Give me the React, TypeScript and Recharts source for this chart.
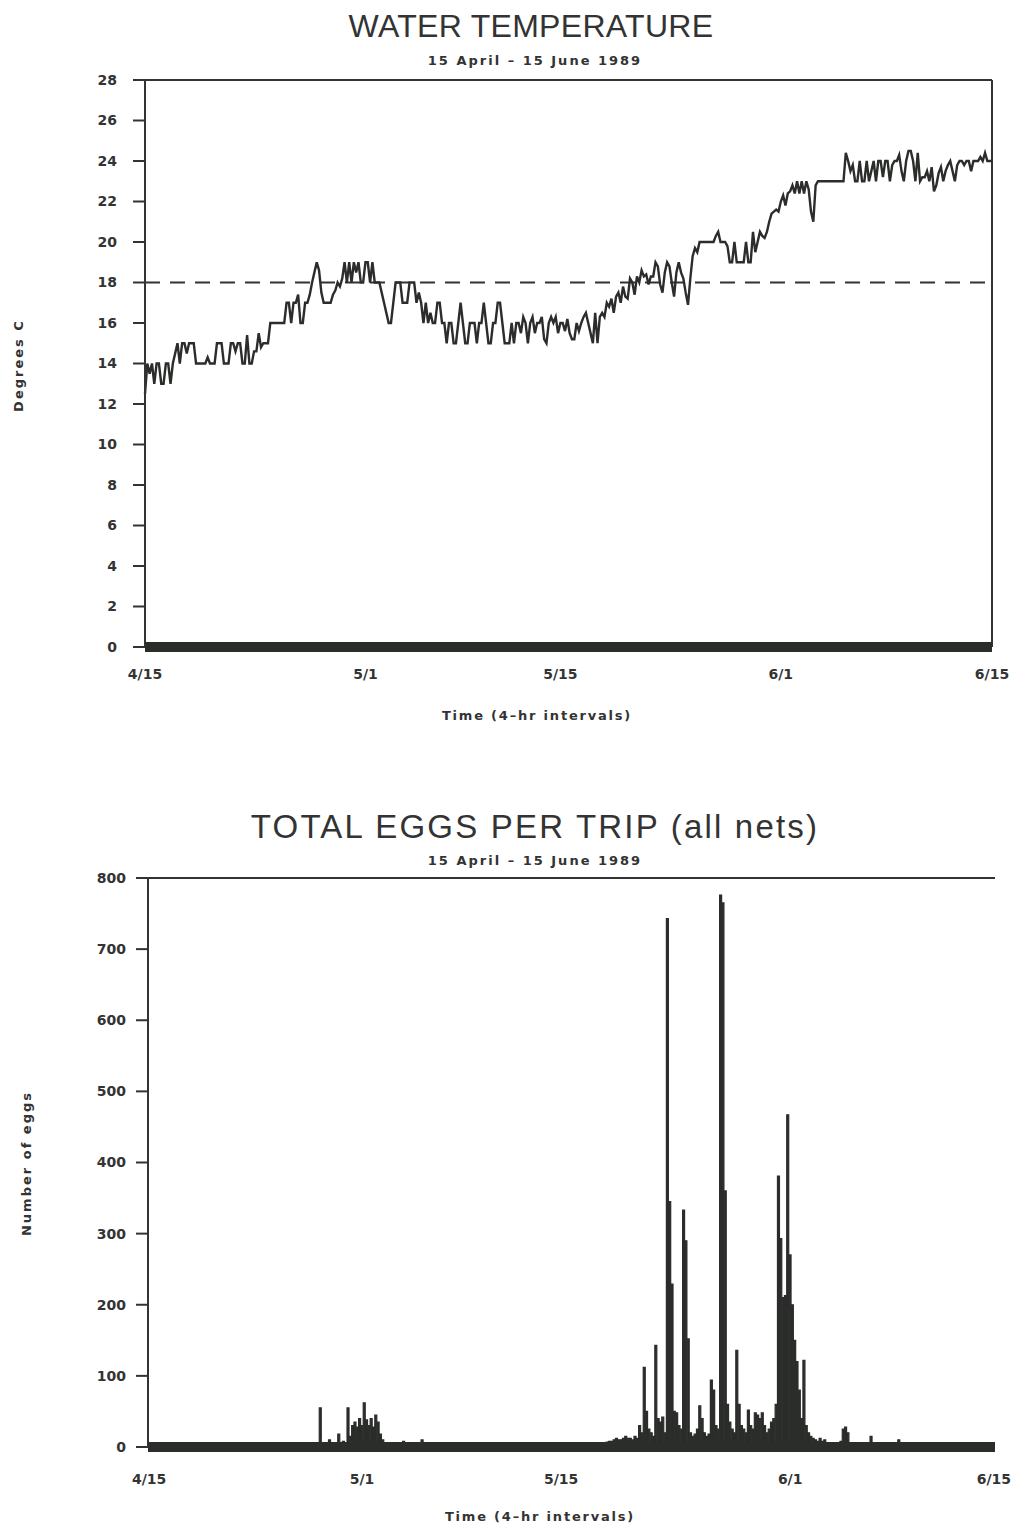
import React from 'react';
import { LineChart, Line, BarChart, Bar, XAxis, YAxis, ReferenceLine } from 'recharts';

// time axis: 4-hr intervals, 15 April - 15 June 1989
const TIME_LABELS = ['4/15', '5/1', '5/15', '6/1', '6/15'];
const TEMP_TICK_POS = [0, 95, 179, 274, 365];
const EGG_TICK_POS = [0, 92, 178, 277, 365];

const TEMP_Y_TICKS = [0, 2, 4, 6, 8, 10, 12, 14, 16, 18, 20, 22, 24, 26, 28];
const EGG_Y_TICKS = [0, 100, 200, 300, 400, 500, 600, 700, 800];
const TEMP_THRESHOLD = 18;

// water temperature (deg C), one value per 4-hr interval
const waterTemp = [
  12.5, 14, 13.5, 14, 13, 14, 14, 13, 13, 14,
  14, 13, 14, 14.5, 15, 14, 15, 15, 14.5, 15,
  15, 15, 14, 14, 14, 14, 14, 14.3, 14, 14,
  14, 15, 15, 15, 14, 14, 14, 15, 15, 14.6,
  15, 15, 14, 14, 15.4, 14, 14, 14.6, 14.6, 15.5,
  14.8, 15, 15, 15, 16, 16, 16, 16, 16, 16,
  16, 17, 17, 16, 17, 17, 17.4, 16, 16, 17,
  17, 17.4, 18, 18.5, 19, 18.6, 17.5, 17, 17, 17,
  17, 17.4, 17.6, 18, 17.8, 18.2, 19, 18, 19, 18,
  19, 18.5, 19, 18, 18, 19, 19, 18, 19, 18,
  18, 18, 17.5, 17, 16.5, 16, 16, 17, 18, 18,
  18, 17, 17, 17, 18, 18, 18, 17, 17.5, 17,
  16, 17, 16, 16.5, 16, 16, 17, 17, 16, 16,
  15, 16, 16, 15, 15, 16, 17, 16, 15, 15,
  16, 16, 16, 15, 16, 16, 17, 16, 15, 15,
  16, 16, 17, 17, 16, 15, 15, 15, 16, 15,
  16, 16, 15.5, 16.3, 16, 15, 16, 16.3, 15.5, 16,
  16, 16.3, 15.2, 15, 16, 16.3, 16, 16.3, 15.5, 16,
  16, 15.6, 16.2, 15.5, 15.2, 15.2, 16, 15.6, 16, 16.3,
  16.5, 16, 15.5, 15, 16.5, 15, 16.3, 16.5, 16.3, 17,
  16.8, 17.2, 16.5, 17.3, 17.5, 17, 17.8, 17.3, 17.2, 18.2,
  18, 17.4, 18.3, 18, 18.6, 18.3, 18.4, 17.9, 18.3, 18.3,
  19, 18.8, 17.9, 17.5, 18.5, 19, 18.8, 18, 17.3, 18.5,
  19, 18.5, 18.2, 17.5, 16.9, 18.2, 19.3, 19.7, 19.5, 20,
  20, 20, 20, 20, 20, 20, 20.3, 20.5, 20, 20,
  20, 19.8, 19, 19, 20, 19, 19, 19, 19, 20,
  19, 19, 20.5, 19.5, 20, 20.5, 20.3, 20.2, 20.5, 21,
  21.4, 21.5, 21.6, 21.5, 22, 22.3, 21.8, 22.4, 22.5, 22.8,
  22.4, 23, 22.4, 23, 22.4, 23, 22.6, 21.5, 21, 22.8,
  23, 23, 23, 23, 23, 23, 23, 23, 23, 23,
  23, 23, 24.4, 24, 23.5, 23.8, 23, 23, 24, 23,
  23, 24, 23, 23.5, 24, 23, 24, 24, 23.2, 24,
  24, 23, 23.8, 24, 24, 24.3, 23.5, 23, 24, 24.5,
  24.5, 24, 23, 24.4, 23, 23.2, 23.2, 23.5, 23, 23.7,
  22.5, 22.8, 23.4, 23.7, 23, 23.5, 23.8, 24, 23.5, 23,
  23.8, 24, 24, 23.8, 24, 24, 23.5, 24, 24, 24,
  24.2, 24, 24.4, 24, 24, 24,
];

// total eggs per trip (all nets), one value per 4-hr interval
const eggsPerTrip = [
  0, 0, 0, 0, 0, 0, 0, 0, 0, 0,
  0, 0, 0, 0, 0, 0, 0, 0, 0, 0,
  0, 0, 0, 0, 0, 0, 0, 0, 0, 0,
  0, 0, 0, 0, 0, 0, 0, 0, 0, 0,
  0, 0, 0, 0, 0, 0, 0, 0, 0, 0,
  0, 0, 0, 0, 0, 0, 0, 0, 0, 0,
  0, 0, 0, 0, 0, 0, 0, 0, 0, 2,
  2, 3, 2, 4, 55, 5, 3, 4, 10, 3,
  4, 6, 18, 5, 8, 3, 55, 15, 30, 35,
  28, 40, 30, 62, 38, 30, 40, 28, 45, 35,
  18, 10, 5, 4, 3, 2, 3, 2, 3, 2,
  8, 3, 2, 2, 3, 2, 3, 4, 10, 3,
  2, 2, 3, 2, 2, 3, 2, 2, 2, 3,
  2, 2, 2, 2, 3, 2, 2, 2, 2, 2,
  0, 0, 0, 0, 0, 0, 0, 0, 0, 0,
  0, 0, 0, 0, 0, 0, 0, 0, 0, 0,
  0, 0, 0, 0, 0, 0, 0, 0, 0, 0,
  0, 0, 0, 0, 0, 0, 0, 0, 0, 0,
  0, 0, 0, 0, 0, 0, 0, 0, 0, 0,
  2, 3, 3, 4, 4, 5, 6, 6, 7, 8,
  8, 10, 12, 10, 10, 12, 15, 12, 12, 10,
  15, 12, 30, 20, 112, 50, 25, 20, 15, 143,
  40, 35, 42, 20, 743, 345, 229, 50, 48, 30,
  25, 333, 290, 152, 20, 15, 18, 25, 58, 40,
  20, 15, 18, 94, 80, 30, 25, 776, 765, 360,
  60, 35, 25, 20, 136, 60, 30, 25, 20, 52,
  30, 25, 48, 45, 40, 48, 30, 20, 25, 35,
  40, 60, 381, 293, 210, 213, 467, 270, 200, 150,
  120, 80, 40, 122, 30, 20, 15, 12, 10, 8,
  12, 8, 10, 6, 5, 4, 5, 4, 6, 8,
  25, 28, 20, 6, 4, 3, 3, 4, 3, 3,
  3, 4, 15, 4, 3, 2, 3, 2, 2, 3,
  2, 2, 3, 2, 10, 3, 2, 2, 2, 2,
  2, 2, 2, 2, 2, 2, 2, 2, 2, 2,
  0, 0, 0, 0, 0, 0, 0, 0, 0, 0,
  0, 0, 0, 0, 0, 0, 0, 0, 0, 0,
  0, 0, 0, 0, 0, 0,
];

const tempData = waterTemp.map((t, i) => ({ i, t }));
const eggData = eggsPerTrip.map((eggs, i) => ({ i, eggs }));

const INK = '#2b2d2b';
const tickFont = { fontSize: 14, fontWeight: 700, fontFamily: 'DejaVu Sans', fill: '#333' };

function Label({ x, y, size, bold, ls, rotate, children }: any) {
  const w = 800;
  return (
    <div
      style={{
        position: 'absolute',
        left: x - w / 2,
        top: y - size / 2,
        width: w,
        height: size,
        lineHeight: `${size}px`,
        textAlign: 'center',
        fontSize: size,
        fontWeight: bold ? 700 : 400,
        fontFamily: bold ? 'DejaVu Sans' : 'Liberation Sans, Arial',
        letterSpacing: ls,
        color: '#333',
        whiteSpace: 'nowrap',
        transform: rotate ? 'rotate(-90deg)' : undefined,
      }}
    >
      {children}
    </div>
  );
}

export default function App() {
  return (
    <div style={{ position: 'absolute', left: 0, top: 0, width: 1026, height: 1530, background: '#fff', overflow: 'hidden' }}>
      <Label x={531} y={26} size={32} ls={0.3}>WATER TEMPERATURE</Label>
      <Label x={535} y={60} size={13} bold ls={2}>15 April – 15 June 1989</Label>
      <Label x={18} y={365} size={13} bold ls={2} rotate>Degrees C</Label>
      <Label x={537} y={715} size={13} bold ls={1.8}>Time (4–hr intervals)</Label>

      <div style={{ position: 'absolute', left: 0, top: 70 }}>
        <LineChart width={1026} height={660} data={tempData} margin={{ top: 10, right: 34, left: 85, bottom: 43 }}>
          <XAxis
            type="number"
            dataKey="i"
            domain={[0, 365]}
            ticks={TEMP_TICK_POS}
            interval={0}
            tickFormatter={(v) => TIME_LABELS[TEMP_TICK_POS.indexOf(v)]}
            axisLine={{ stroke: INK, strokeWidth: 10 }}
            tickLine={false}
            tickSize={0}
            tickMargin={22}
            height={40}
            tick={tickFont}
          />
          <YAxis
            domain={[0, 28]}
            ticks={TEMP_Y_TICKS}
            interval={0}
            width={60}
            tickSize={12}
            tickMargin={16}
            axisLine={{ stroke: '#333', strokeWidth: 2 }}
            tickLine={{ stroke: '#333', strokeWidth: 2 }}
            tick={tickFont}
          />
          <ReferenceLine y={28} stroke="#333" strokeWidth={2} />
          <ReferenceLine x={365} stroke="#333" strokeWidth={2} />
          <ReferenceLine y={TEMP_THRESHOLD} stroke="#333" strokeWidth={2} strokeDasharray="15 10" />
          <Line type="linear" dataKey="t" stroke={INK} strokeWidth={2.4} dot={false} isAnimationActive={false} />
        </LineChart>
      </div>

      <Label x={535} y={826} size={33} ls={2.2}>TOTAL EGGS PER TRIP (all nets)</Label>
      <Label x={535} y={860} size={13} bold ls={2}>15 April – 15 June 1989</Label>
      <Label x={26} y={1163} size={13} bold ls={2} rotate>Number of eggs</Label>
      <Label x={540} y={1516} size={13} bold ls={1.8}>Time (4–hr intervals)</Label>

      <div style={{ position: 'absolute', left: 0, top: 860 }}>
        <BarChart width={1026} height={660} data={eggData} barCategoryGap={0} barGap={0} margin={{ top: 18, right: 31, left: 88, bottom: 33 }}>
          <XAxis
            dataKey="i"
            ticks={EGG_TICK_POS}
            interval={0}
            tickFormatter={(v) => TIME_LABELS[EGG_TICK_POS.indexOf(v)]}
            axisLine={{ stroke: INK, strokeWidth: 10 }}
            tickLine={false}
            tickSize={0}
            tickMargin={27}
            height={40}
            tick={tickFont}
          />
          <YAxis
            domain={[0, 800]}
            ticks={EGG_Y_TICKS}
            interval={0}
            width={60}
            tickSize={12}
            tickMargin={10}
            axisLine={{ stroke: '#333', strokeWidth: 2 }}
            tickLine={{ stroke: '#333', strokeWidth: 2 }}
            tick={tickFont}
          />
          <ReferenceLine y={800} stroke="#333" strokeWidth={2} />
          <ReferenceLine x={365} position="end" stroke="#333" strokeWidth={2} />
          <Bar dataKey="eggs" fill={INK} stroke={INK} strokeWidth={1.2} isAnimationActive={false} />
        </BarChart>
      </div>
    </div>
  );
}
